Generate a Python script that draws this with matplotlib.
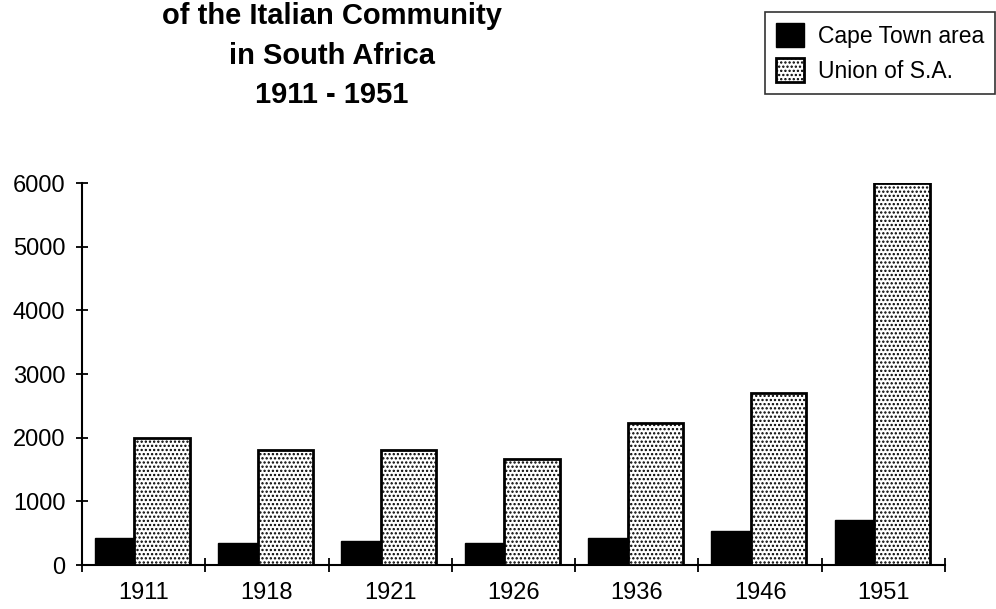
import matplotlib
matplotlib.use("Agg")
import matplotlib.pyplot as plt
import numpy as np

# census years and numbers
years = ['1911', '1918', '1921', '1926', '1936', '1946', '1951']
cape_town = [430, 340, 380, 340, 430, 530, 700]
union_sa = [2000, 1800, 1800, 1660, 2230, 2700, 6000]

title_lines = ['of the Italian Community', 'in South Africa', '1911 - 1951']

plt.rcParams['font.family'] = ['Liberation Sans', 'DejaVu Sans']
plt.rcParams['hatch.linewidth'] = 1.1

fig = plt.figure(figsize=(9.96, 6.09), dpi=100)
ax = fig.add_axes([0.0823, 0.0722, 0.8665, 0.6273])

x = np.arange(len(years))
b1 = ax.bar(x + 0.27, cape_town, width=0.33, color='black', edgecolor='black',
            linewidth=1, label='Cape Town area', zorder=2)
b2 = ax.bar(x + 0.65, union_sa, width=0.45, color='white', edgecolor='black',
            hatch='....', linewidth=2, label='Union of S.A.', zorder=3)

ax.set_xlim(0, len(years))
ax.set_ylim(0, 6000)
ax.spines['top'].set_visible(False)
ax.spines['right'].set_visible(False)
ax.spines['left'].set_linewidth(1.5)
ax.spines['bottom'].set_linewidth(1.5)

ax.set_yticks(range(0, 6001, 1000))
ax.tick_params(axis='y', direction='inout', length=8, width=1.3, pad=8, labelsize=17)

ax.set_xticks(np.arange(len(years) + 1))
ax.set_xticklabels([])
ax.set_xticks(x + 0.5, minor=True)
ax.set_xticklabels(years, minor=True)
ax.tick_params(axis='x', which='major', direction='inout', length=10, width=1.3)
ax.tick_params(axis='x', which='minor', length=0, pad=12, labelsize=17)

# title (top line runs off the page in the scan)
for txt, ybase in zip(title_lines, [24, 64, 103]):
    fig.text(0.333, 1 - ybase / 609, txt, ha='center', va='baseline',
             fontsize=21, fontweight='bold')

leg = ax.legend(handles=[b1, b2], loc='upper left',
                bbox_to_anchor=(765 / 996, 1 - 12 / 609),
                bbox_transform=fig.transFigure, fontsize=16.5,
                fancybox=False, frameon=True, edgecolor='black',
                handlelength=1.2, handleheight=1.2, handletextpad=0.6,
                labelspacing=0.45, borderpad=0.5, borderaxespad=0)
leg.get_frame().set_linewidth(1.2)

fig.savefig('out.png', dpi=100)
